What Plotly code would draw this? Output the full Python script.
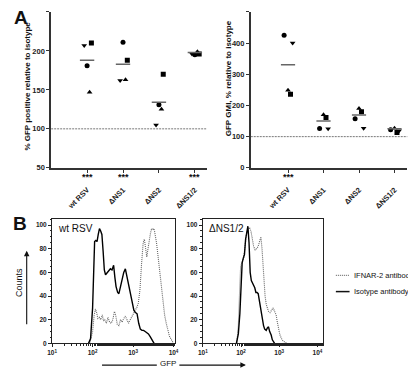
import numpy as np
import plotly.graph_objects as go

W, H = 416, 368
FONT = "Arial, Liberation Sans, sans-serif"

# ---------------- DATA ----------------
categories = ["wt RSV", "ΔNS1", "ΔNS2", "ΔNS1/2"]
symbols = ["triangle-down", "circle", "triangle-up", "square"]

# Panel A left: % GFP positive relative to isotype (per symbol, per category)
gfp_pos = {
    "triangle-down": [207, 162, 105, 196],
    "circle":        [181, 211, 131, 195],
    "triangle-up":   [147, 163, 125, 199],
    "square":        [210, 188, 170, 196],
}
gfp_pos_mean = [188, 183, 134, 198]
gfp_pos_sig = ["***", "***", "", "***"]

# Panel A right: GFP GMI, % relative to isotype
gfp_gmi = {
    "triangle-down": [400, 125, 127, 119],
    "circle":        [425, 126, 157, 122],
    "triangle-up":   [249, 170, 190, 127],
    "square":        [236, 161, 180, 113],
}
gfp_gmi_mean = [331, 150, 169, 125]
gfp_gmi_sig = ["***", "", "", ""]

# Panel B: histograms (log10 GFP, counts)
wt_iso_log = [1.90, 1.95, 2.00, 2.03, 2.05, 2.08, 2.11, 2.14, 2.17, 2.20, 2.23, 2.26, 2.29, 2.32,
              2.36, 2.40, 2.44, 2.48, 2.52, 2.55, 2.58, 2.62, 2.65, 2.69, 2.73, 2.77, 2.81, 2.84,
              2.88, 2.91, 2.94, 2.98, 3.02, 3.06, 3.10, 3.14, 3.18, 3.22, 3.26, 3.30, 3.34, 3.38,
              3.42, 3.47, 3.52]
wt_iso_cnt = [0, 4, 30, 70, 86, 87, 86, 92, 97, 95, 92, 78, 62, 58,
              60, 62, 63, 62, 66, 56, 48, 43, 42, 48, 55, 60, 63, 58,
              52, 47, 43, 35, 28, 26, 25, 17, 12, 11, 11, 10, 9, 8,
              6, 3, 0]
wt_ifn_log = [1.93, 2.00, 2.04, 2.07, 2.10, 2.13, 2.17, 2.20, 2.24, 2.27, 2.30, 2.34, 2.38, 2.42,
              2.46, 2.50, 2.54, 2.57, 2.61, 2.65, 2.69, 2.73, 2.77, 2.81, 2.85, 2.89, 2.93, 2.97,
              3.01, 3.05, 3.09, 3.13, 3.17, 3.21, 3.25, 3.28, 3.31, 3.34, 3.37, 3.40, 3.43, 3.46,
              3.49, 3.52, 3.55, 3.58, 3.62, 3.66, 3.70, 3.74, 3.78, 3.82, 3.86, 3.90, 3.95, 4.00]
wt_ifn_cnt = [0, 10, 24, 29, 26, 21, 22, 20, 24, 19, 20, 17, 22, 18,
              17, 20, 27, 24, 16, 15, 20, 18, 21, 23, 20, 17, 20, 22,
              25, 28, 30, 34, 45, 67, 85, 88, 78, 73, 80, 88, 93, 97,
              96, 97, 92, 85, 73, 60, 46, 35, 24, 17, 10, 6, 3, 0]

dns_iso_log = [1.88, 1.93, 1.97, 2.00, 2.03, 2.06, 2.09, 2.12, 2.15, 2.18, 2.21, 2.24, 2.27, 2.30,
               2.33, 2.36, 2.39, 2.42, 2.45, 2.48, 2.52, 2.55, 2.59, 2.62, 2.66, 2.69, 2.72, 2.75,
               2.79, 2.82, 2.85, 2.88]
dns_iso_cnt = [0, 8, 25, 55, 68, 72, 75, 88, 95, 99, 85, 60, 53, 51,
               50, 47, 43, 43, 42, 36, 29, 22, 15, 12, 11, 13, 14, 10,
               7, 3, 1, 0]
dns_ifn_log = [1.89, 1.93, 1.97, 1.99, 2.03, 2.07, 2.10, 2.14, 2.18, 2.22, 2.26, 2.29, 2.33, 2.37,
               2.41, 2.45, 2.49, 2.52, 2.55, 2.57, 2.60, 2.63, 2.66, 2.69, 2.72, 2.76, 2.80, 2.84,
               2.88, 2.92, 2.95, 2.98, 3.02, 3.06, 3.10, 3.15, 3.20]
dns_ifn_cnt = [0, 15, 50, 65, 69, 72, 80, 92, 96, 98, 95, 90, 82, 79,
               80, 82, 87, 90, 80, 68, 52, 40, 33, 29, 27, 26, 28, 30,
               27, 24, 18, 12, 7, 4, 2, 1, 0]

hist_ticks = [10, 100, 1000, 10000]
hist_ticktext = ["10<sup>1</sup>", "10<sup>2</sup>", "10<sup>3</sup>", "10<sup>4</sup>"]

# ---------------- LAYOUT HELPERS ----------------
def px(x):
    return x / W

def py(y):
    return 1 - y / H

fig = go.Figure()

# symbol x-offsets (category units) per panel
off_left = {"triangle-down": -0.08, "circle": 0.0, "triangle-up": 0.07, "square": 0.12}
off_right = {"triangle-down": 0.13, "circle": -0.11, "triangle-up": 0.0, "square": 0.07}
cat_pos = np.arange(1, len(categories) + 1)

for sym in symbols:
    fig.add_trace(go.Scatter(
        x=cat_pos + off_left[sym], y=gfp_pos[sym], mode="markers", xaxis="x", yaxis="y",
        marker=dict(symbol=sym, size=5, color="black"), showlegend=False))
    fig.add_trace(go.Scatter(
        x=cat_pos + off_right[sym], y=gfp_gmi[sym], mode="markers", xaxis="x2", yaxis="y2",
        marker=dict(symbol=sym, size=5, color="black"), showlegend=False))

def mean_trace(means, xa, ya):
    xs, ys = [], []
    for c, m in zip(cat_pos, means):
        xs += [c - 0.2, c + 0.2, None]
        ys += [m, m, None]
    return go.Scatter(x=xs, y=ys, mode="lines", xaxis=xa, yaxis=ya,
                      line=dict(color="#666666", width=1.5), showlegend=False)

fig.add_trace(mean_trace(gfp_pos_mean, "x", "y"))
fig.add_trace(mean_trace(gfp_gmi_mean, "x2", "y2"))

# histograms
def hist(logs, cnts, xa, ya, dotted):
    return go.Scatter(x=[10 ** v for v in logs], y=cnts, mode="lines", xaxis=xa, yaxis=ya,
                      line=dict(color="#666666" if dotted else "black",
                                width=1.1 if dotted else 1.4,
                                dash="1px,1px" if dotted else "solid"),
                      showlegend=False)

fig.add_trace(hist(wt_ifn_log, wt_ifn_cnt, "x3", "y3", True))
fig.add_trace(hist(wt_iso_log, wt_iso_cnt, "x3", "y3", False))
fig.add_trace(hist(dns_ifn_log, dns_ifn_cnt, "x4", "y4", True))
fig.add_trace(hist(dns_iso_log, dns_iso_cnt, "x4", "y4", False))

tickf = dict(family=FONT, size=7.5, color="#222", weight="bold")
tickf_small = dict(family=FONT, size=6.5, color="#222", weight="bold")
yA = [py(162), py(4)]
yB = [py(340), py(214)]

axA = dict(showline=True, linecolor="#333", linewidth=1.6, ticks="outside", ticklen=3,
           tickcolor="#333", tickwidth=1.2, showgrid=False, zeroline=False, tickfont=tickf)
axB = dict(showline=True, linecolor="#222", linewidth=1.2, mirror=True, ticks="outside",
           ticklen=3, tickcolor="#222", tickwidth=1, showgrid=False, zeroline=False,
           tickfont=tickf_small)

fig.update_layout(
    width=W, height=H, margin=dict(l=0, r=0, t=0, b=0),
    paper_bgcolor="white", plot_bgcolor="white",
    font=dict(family=FONT, color="#222"),
    xaxis=dict(axA, domain=[px(39), px(198)], range=[0, 4.33], tickvals=list(cat_pos),
               ticktext=categories, tickangle=-45, anchor="y", ticklabelstandoff=10),
    yaxis=dict(axA, domain=yA, range=[50, 250], dtick=50, anchor="x"),
    xaxis2=dict(axA, domain=[px(243), px(403)], range=[-0.05, 4.36], tickvals=list(cat_pos),
                ticktext=categories, tickangle=-45, anchor="y2", ticklabelstandoff=10),
    yaxis2=dict(axA, domain=yA, range=[0, 500], dtick=100, anchor="x2"),
    xaxis3=dict(axB, type="log", domain=[px(40), px(165.5)], range=[1, 4.035],
                tickvals=hist_ticks, ticktext=hist_ticktext, anchor="y3",
                minor=dict(ticks="outside", ticklen=1.5, tickcolor="#222", showgrid=False)),
    yaxis3=dict(axB, domain=yB, range=[0, 105], tickvals=[0, 20, 40, 60, 80, 100], anchor="x3",
                minor=dict(ticks="outside", ticklen=1.5, dtick=5, tickcolor="#222", showgrid=False)),
    xaxis4=dict(axB, type="log", domain=[px(194), px(317)], range=[1, 4.15],
                tickvals=hist_ticks, ticktext=hist_ticktext, anchor="y4",
                minor=dict(ticks="outside", ticklen=1.5, tickcolor="#222", showgrid=False)),
    yaxis4=dict(axB, domain=yB, range=[0, 105], tickvals=[0, 20, 40, 60, 80, 100], anchor="x4",
                minor=dict(ticks="outside", ticklen=1.5, dtick=5, tickcolor="#222", showgrid=False)),
)

# dotted reference lines at 100
for xr, yr in [("x", "y"), ("x2", "y2")]:
    fig.add_shape(type="line", xref=f"{xr} domain", yref=yr, x0=0, x1=1, y0=100, y1=100,
                  line=dict(color="#555", width=0.8, dash="2px,1px"))

ann = []
def txt(x, y, s, size=8, bold=False, angle=0, xanchor="center", yanchor="middle", **kw):
    ann.append(dict(x=px(x), y=py(y), xref="paper", yref="paper", text=s, showarrow=False,
                    textangle=angle, xanchor=xanchor, yanchor=yanchor,
                    font=dict(family=FONT, size=size, color="#111",
                              weight="bold" if bold else "normal"), **kw))

# panel letters
txt(8, 10, "A", size=19, bold=True)
txt(7, 218, "B", size=19, bold=True)
# y axis titles
txt(15, 79, "% GFP positive relative to isotype", size=8, bold=True, angle=-90)
txt(220, 71, "GFP GMI, % relative to isotype", size=8, bold=True, angle=-90)

# significance stars
for c, s in zip(cat_pos, gfp_pos_sig):
    if s:
        ann.append(dict(x=c, y=py(171), xref="x", yref="paper", text=s, showarrow=False,
                        font=dict(family=FONT, size=9, color="#111", weight="bold")))
for c, s in zip(cat_pos, gfp_gmi_sig):
    if s:
        ann.append(dict(x=c, y=py(171), xref="x2", yref="paper", text=s, showarrow=False,
                        font=dict(family=FONT, size=9, color="#111", weight="bold")))

# histogram titles
txt(44, 224, "wt RSV", size=10, xanchor="left")
txt(198, 224, "ΔNS1/2", size=10, xanchor="left")

# Counts label + arrow
txt(6, 278, "Counts", size=9, angle=-90)
ann.append(dict(x=px(14), y=py(246), ax=0, ay=75, xref="paper", yref="paper",
                axref="pixel", ayref="pixel", showarrow=True, arrowhead=2, arrowsize=1,
                arrowwidth=1.1, arrowcolor="#111", text=""))
# GFP label + arrow
txt(158, 360.5, "GFP", size=8)
fig.add_shape(type="line", xref="paper", yref="paper", x0=px(91), x1=px(147), y0=py(362),
              y1=py(362), line=dict(color="#111", width=1.1))
ann.append(dict(x=px(238), y=py(362), ax=-68, ay=0, xref="paper", yref="paper",
                axref="pixel", ayref="pixel", showarrow=True, arrowhead=2, arrowsize=1,
                arrowwidth=1.1, arrowcolor="#111", text=""))

# legend
fig.add_shape(type="line", xref="paper", yref="paper", x0=px(330), x1=px(344), y0=py(271),
              y1=py(271), line=dict(color="#555", width=1, dash="1px,1px"))
fig.add_shape(type="line", xref="paper", yref="paper", x0=px(330), x1=px(344), y0=py(287.5),
              y1=py(287.5), line=dict(color="#111", width=1.5))
txt(346, 271, "IFNAR-2 antibody", size=7.5, xanchor="left")
txt(346, 287.5, "Isotype antibody", size=7.5, xanchor="left")

fig.update_layout(annotations=ann)
fig.write_html("out.html")
